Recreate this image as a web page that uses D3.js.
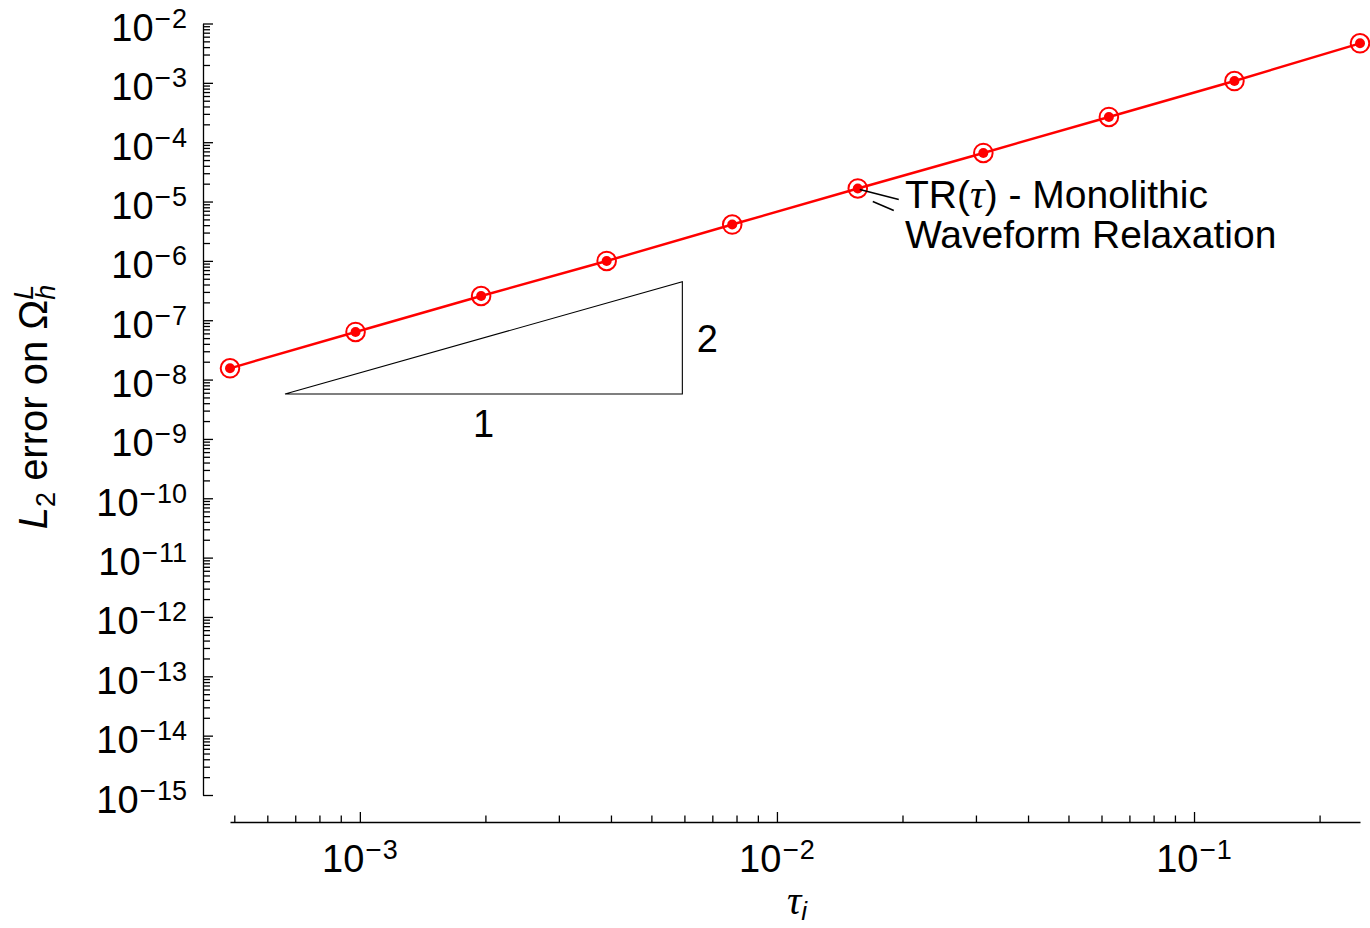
<!DOCTYPE html>
<html>
<head>
<meta charset="utf-8">
<script src="https://cdn.jsdelivr.net/npm/d3@7"></script>
<style>
  body { margin: 0; background: #fff; }
  svg text { font-family: "Liberation Sans", Arial, Helvetica, sans-serif; fill: #000; }
</style>
</head>
<body>
<svg id="chart" width="1370" height="928"></svg>
<script>
// ---------------- data ----------------
const tauValues = [2 ** -11, 2 ** -10, 2 ** -9, 2 ** -8, 2 ** -7, 2 ** -6, 2 ** -5, 2 ** -4, 2 ** -3, 2 ** -2];
const errorValues = [1.55e-8, 6.34e-8, 2.56e-7, 9.96e-7, 4.10e-6, 1.66e-5, 6.58e-5, 2.66e-4, 1.074e-3, 4.64e-3];
const yMajorExponents = [-2, -3, -4, -5, -6, -7, -8, -9, -10, -11, -12, -13, -14, -15];
const xMajorExponents = [-3, -2, -1];
const slopeTriangleX = [6.615e-4, 5.932e-3];
const slopeTriangleY = [5.72e-9, 4.46e-7];
const slopeLabels = ["1", "2"];
const seriesLabelLines = ["TR(", "τ", ") - Monolithic", "Waveform Relaxation"];
const xDomain = [2 ** -11, 2 ** -2];
const yDomain = [1e-15, 1e-2];

// ---------------- setup ----------------
const svg = d3.select("#chart");
const x = d3.scaleLog().domain(xDomain).range([230, 1360]);
const y = d3.scaleLog().domain(yDomain).range([795, 23.5]);
const yAxisX = 203;
const xAxisY = 822;
const FS = 38;

// minor ticks
const yMinor = [];
for (let e = -15; e <= -3; e++) for (let k = 2; k <= 9; k++) yMinor.push(k * Math.pow(10, e));
const xMinor = [];
for (let e = -4; e <= -1; e++) for (let k = 2; k <= 9; k++) {
  const v = k * Math.pow(10, e);
  if (v >= xDomain[0] * 0.999 && v <= xDomain[1] * 1.001) xMinor.push(v);
}
const yMajor = yMajorExponents.map(e => Math.pow(10, e));
const xMajor = xMajorExponents.map(e => Math.pow(10, e));

// y axis
const gy = svg.append("g").attr("transform", `translate(${yAxisX},0)`);
gy.call(d3.axisLeft(y).tickValues(yMajor).tickSize(-10).tickSizeOuter(0).tickFormat(""));
gy.append("g").call(d3.axisLeft(y).tickValues(yMinor).tickSize(-7).tickSizeOuter(0).tickFormat(""))
  .select(".domain").remove();
gy.selectAll("path,line").attr("stroke", "#000").attr("stroke-width", 1.3);

// x axis
const gx = svg.append("g").attr("transform", `translate(0,${xAxisY})`);
gx.call(d3.axisBottom(x).tickValues(xMajor).tickSize(-10).tickSizeOuter(0).tickFormat(""));
gx.append("g").call(d3.axisBottom(x).tickValues(xMinor).tickSize(-6.5).tickSizeOuter(0).tickFormat(""))
  .select(".domain").remove();
gx.selectAll("path,line").attr("stroke", "#000").attr("stroke-width", 1.3);

// power-of-ten label helper
function powLabel(sel, exp) {
  sel.append("tspan").text("10");
  sel.append("tspan").attr("font-size", 28).attr("dy", -13).attr("dx", 1).text("\u2212");
  sel.append("tspan").attr("font-size", 27).attr("dx", 1).text(String(Math.abs(exp)));
}

// y tick labels
yMajorExponents.forEach(e => {
  const t = svg.append("text")
    .attr("x", 187).attr("y", y(Math.pow(10, e)) + 17.5)
    .attr("text-anchor", "end").attr("font-size", FS);
  powLabel(t, e);
});
// x tick labels
xMajorExponents.forEach(e => {
  const t = svg.append("text")
    .attr("x", x(Math.pow(10, e))).attr("y", 872)
    .attr("text-anchor", "middle").attr("font-size", FS);
  powLabel(t, e);
});

// axis titles
const xt = svg.append("text").attr("x", 797).attr("y", 914).attr("text-anchor", "middle");
xt.append("tspan").attr("font-family", "'Liberation Serif', 'Times New Roman', serif")
  .attr("font-style", "italic").attr("font-size", 40).text("τ");
xt.append("tspan").attr("font-style", "italic").attr("font-size", 26).attr("dy", 6).text("i");

const yt = svg.append("text").attr("transform", "translate(47,407) rotate(-90)")
  .attr("text-anchor", "middle").attr("font-size", 40);
yt.append("tspan").attr("font-style", "italic").text("L");
yt.append("tspan").attr("font-size", 27).attr("dy", 8).text("2");
yt.append("tspan").attr("dy", -8).text(" error on \u03A9");
yt.append("tspan").attr("font-style", "italic").attr("font-size", 27).attr("dy", 8).text("h");
yt.append("tspan").attr("font-style", "italic").attr("font-size", 27).attr("dx", -15).attr("dy", -22).text("L");

// slope triangle
const tri = [
  [x(slopeTriangleX[0]), y(slopeTriangleY[0])],
  [x(slopeTriangleX[1]), y(slopeTriangleY[0])],
  [x(slopeTriangleX[1]), y(slopeTriangleY[1])]
];
svg.append("path").attr("d", d3.line()(tri) + "Z")
  .attr("fill", "none").attr("stroke", "#000").attr("stroke-width", 1.1);
svg.append("text").attr("x", (tri[0][0] + tri[1][0]) / 2).attr("y", tri[0][1] + 43)
  .attr("text-anchor", "middle").attr("font-size", FS).text(slopeLabels[0]);
svg.append("text").attr("x", tri[1][0] + 25).attr("y", (tri[1][1] + tri[2][1]) / 2 + 14)
  .attr("text-anchor", "middle").attr("font-size", FS).text(slopeLabels[1]);

// series
const pts = tauValues.map((t, i) => [x(t), y(errorValues[i])]);
svg.append("path").attr("d", d3.line()(pts))
  .attr("fill", "none").attr("stroke", "#ff0000").attr("stroke-width", 2.4);
svg.selectAll("circle.ring").data(pts).join("circle").attr("class", "ring")
  .attr("cx", d => d[0]).attr("cy", d => d[1]).attr("r", 9.3)
  .attr("fill", "none").attr("stroke", "#ff0000").attr("stroke-width", 2);
svg.selectAll("circle.dot").data(pts).join("circle").attr("class", "dot")
  .attr("cx", d => d[0]).attr("cy", d => d[1]).attr("r", 5)
  .attr("fill", "#ff0000");

// callout label
const p = pts[5];
svg.append("line").attr("x1", p[0] + 2).attr("y1", p[1] + 1).attr("x2", p[0] + 41).attr("y2", p[1] + 11)
  .attr("stroke", "#000").attr("stroke-width", 1.5);
svg.append("line").attr("x1", p[0] + 15).attr("y1", p[1] + 13).attr("x2", p[0] + 36).attr("y2", p[1] + 22)
  .attr("stroke", "#000").attr("stroke-width", 1.5);
const lab = svg.append("text").attr("x", 905).attr("y", 208).attr("font-size", 39);
lab.append("tspan").text(seriesLabelLines[0]);
lab.append("tspan").attr("font-family", "'Liberation Serif', 'Times New Roman', serif")
  .attr("font-style", "italic").attr("font-size", 41).text(seriesLabelLines[1]);
lab.append("tspan").text(seriesLabelLines[2]);
svg.append("text").attr("x", 905).attr("y", 248).attr("font-size", 39).text(seriesLabelLines[3]);
</script>
</body>
</html>
